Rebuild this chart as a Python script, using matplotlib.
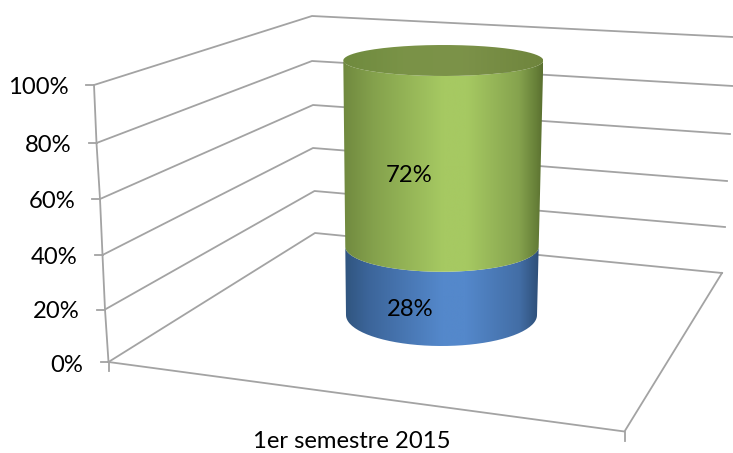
import numpy as np
import matplotlib.pyplot as plt
from matplotlib.colors import LinearSegmentedColormap
from matplotlib.patches import PathPatch
from matplotlib.path import Path

plt.rcParams['font.family'] = ['Lato', 'DejaVu Sans']

# Data
category = '1er semestre 2015'
tick_values = [0, 20, 40, 60, 80, 100]
tick_labels = ['0%', '20%', '40%', '60%', '80%', '100%']
shares = [28, 72]
share_labels = ['28%', '72%']

# Perspective of the 3d box, in image pixels, one entry per tick value
front_x = [108.5, 105, 102.5, 100, 96.5, 94]
front_y = [362, 309.5, 255, 199, 143, 85]
back_x = [315, 314.5, 313, 313, 312, 312]
back_y = [233, 191, 148, 105, 61, 16]
right_x = [722, 725, 727, 730, 733, 733]
right_y = [273, 227, 181, 134, 86, 37]
floor_corner = (624.5, 431.5)
label_right = [83, 80, 77, 75, 72, 69]
label_y = [365, 312, 257, 202, 145, 88]

GRID = '#a3a3a3'
FONT = 17.2
W, H = 733, 453

fig = plt.figure(figsize=(W / 100, H / 100), dpi=100)
ax = fig.add_axes([0, 0, 1, 1])
ax.set_xlim(0, W)
ax.set_ylim(H, 0)
ax.axis('off')


def height_frac(v):
    # how far up the front wall edge a value sits
    y = np.interp(v, tick_values, front_y)
    return (front_y[0] - y) / (front_y[0] - front_y[-1])


def cyl_slice(v):
    f = height_frac(v)
    cx = np.interp(f, [0, 1], [441.5, 443.3])
    cy = np.interp(f, [0, 1], [315, 60.5])
    rx = np.interp(f, [0, 1], [95.5, 100])
    ry = np.interp(f, [0, 0.27, 1], [31, 25, 15.5])
    return cx, cy, rx, ry


def gradient_fill(pts, stops, zorder=3):
    cmap = LinearSegmentedColormap.from_list('fill', stops)
    grad = np.linspace(0, 1, 512).reshape(1, -1)
    ext = (pts[:, 0].min(), pts[:, 0].max(), pts[:, 1].max(), pts[:, 1].min())
    im = ax.imshow(grad, cmap=cmap, extent=ext, aspect='auto', zorder=zorder)
    clip = PathPatch(Path(pts), transform=ax.transData, fc='none', ec='none')
    ax.add_patch(clip)
    im.set_clip_path(clip)


def side_patch(v0, v1, stops):
    # lit cylinder side between two values
    cx0, cy0, rx0, ry0 = cyl_slice(v0)
    cx1, cy1, rx1, ry1 = cyl_slice(v1)
    t = np.linspace(0, np.pi, 80)
    low = np.column_stack([cx0 + rx0 * np.cos(t), cy0 + ry0 * np.sin(t)])
    up = np.column_stack([cx1 - rx1 * np.cos(t), cy1 + ry1 * np.sin(t)])
    gradient_fill(np.vstack([low, up, low[:1]]), stops)


# walls and floor
for i in range(len(tick_values)):
    ax.plot([front_x[i], back_x[i], right_x[i]], [front_y[i], back_y[i], right_y[i]],
            color=GRID, lw=1.3, zorder=1)
    ax.plot([front_x[i] - 8, front_x[i]], [front_y[i]] * 2, color=GRID, lw=1.3, zorder=1)
    ax.text(label_right[i], label_y[i], tick_labels[i], ha='right', va='center', fontsize=FONT, color='black')
ax.plot(front_x, front_y, color=GRID, lw=1.3, zorder=1)
ax.plot([front_x[0], front_x[0]], [front_y[0], front_y[0] + 9], color=GRID, lw=1.3, zorder=1)
ax.plot([front_x[0], floor_corner[0], right_x[0]], [front_y[0], floor_corner[1], right_y[0]],
        color=GRID, lw=1.3, zorder=1)
ax.plot([floor_corner[0]] * 2, [floor_corner[1], floor_corner[1] + 9], color=GRID, lw=1.3, zorder=1)

# stacked cylinder
blue_stops = [(0, '#30557f'), (0.12, '#3c659a'), (0.5, '#5488cb'), (0.62, '#5488cb'),
              (0.9, '#436ea6'), (1, '#2e4f78')]
green_stops = [(0, '#70893f'), (0.15, '#84a14c'), (0.5, '#a6c962'), (0.62, '#a6c962'),
               (0.88, '#86a34e'), (0.97, '#667f38'), (1, '#5a7030')]
top_stops = [(0, '#6f8a3e'), (0.3, '#7a9347'), (0.6, '#7c9249'), (1, '#6f853d')]
side_patch(0, shares[0], blue_stops)
side_patch(shares[0], shares[0] + shares[1], green_stops)

cx, cy, rx, ry = cyl_slice(shares[0] + shares[1])
t = np.linspace(0, 2 * np.pi, 160)
gradient_fill(np.column_stack([cx + rx * np.cos(t), cy + ry * np.sin(t)]), top_stops, zorder=4)

ax.text(410, 310, share_labels[0], ha='center', va='center', fontsize=FONT, color='black', zorder=5)
ax.text(409, 176, share_labels[1], ha='center', va='center', fontsize=FONT, color='black', zorder=5)
ax.text(352, 441.5, category, ha='center', va='center', fontsize=FONT, color='black')

ax.set_xlim(0, W)
ax.set_ylim(H, 0)
fig.savefig('out.png', dpi=100)
